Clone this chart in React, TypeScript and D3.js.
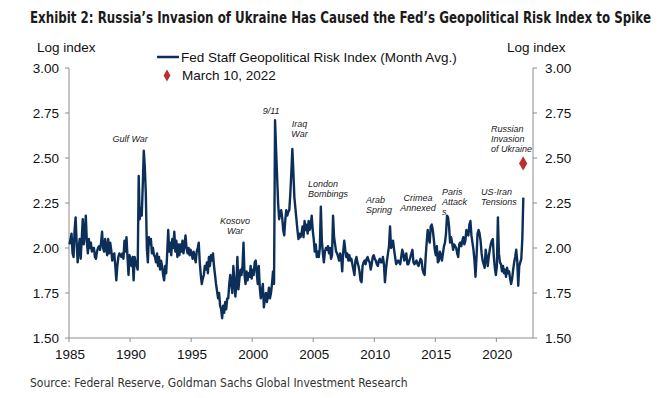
import React, { useLayoutEffect, useRef, useState } from "react";
import * as d3 from "d3";

const START_YEAR = 1985;

// Fed Staff Geopolitical Risk Index (log, month avg.), Jan 1985 onward
const gpr1985s = [
  2.02, 2.05, 2.08, 1.97, 1.95, 2.10, 2.17, 2.03, 1.92, 2.00, 2.05, 1.94,
  2.05, 2.16, 2.02, 2.08, 2.18, 2.04, 1.97, 2.05, 2.00, 2.03, 1.98, 2.00,
  2.00, 1.95, 1.94, 1.98, 2.00, 2.01, 1.99, 2.03, 2.09, 2.00, 1.98, 2.05,
  2.00, 1.96, 2.05, 1.97, 2.03, 1.99, 1.93, 1.96, 1.97, 1.90, 1.82, 1.90,
  1.95, 1.97, 1.96, 1.95, 1.97, 1.94, 2.04, 1.98, 2.06, 1.95, 1.85, 1.96,
];
const gpr1990s = [
  1.93, 1.90, 1.95, 1.82, 1.95, 1.92, 1.90, 1.88, 2.40, 2.16, 2.22, 2.18,
  2.35, 2.54, 2.45, 2.30, 2.00, 1.92, 2.06, 2.02, 2.05, 1.97, 2.00, 1.96,
  1.95, 1.92, 1.97, 1.90, 1.95, 1.88, 1.93, 1.90, 1.85, 1.82, 1.90, 1.86,
  1.97, 2.10, 1.98, 2.03, 1.96, 2.05, 2.00, 2.09, 1.98, 2.04, 1.95, 2.02,
  1.96, 2.02, 1.98, 2.04, 1.97, 2.02, 2.07, 2.00, 1.97, 2.00, 1.96, 1.99,
  1.97, 1.94, 1.98, 1.95, 1.92, 1.98, 2.00, 2.03, 1.92, 1.85, 1.80, 1.83,
  1.85, 1.90, 1.88, 1.92, 1.86, 1.95, 1.90, 1.96, 1.93, 1.97, 1.90, 1.85,
  1.80, 1.76, 1.72, 1.75, 1.68, 1.66, 1.61, 1.68, 1.64, 1.70, 1.66, 1.72,
  1.72, 1.80, 1.85, 1.80, 1.75, 1.90, 1.82, 1.73, 1.80, 1.95, 1.77, 1.83,
  1.88, 1.85, 1.90, 2.03, 1.85, 1.80, 1.87, 1.82, 1.86, 1.84, 1.90, 1.83,
];
const gpr2000s = [
  1.88, 1.85, 1.92, 1.93, 1.86, 1.80, 1.90, 1.78, 1.72, 1.76, 1.80, 1.67,
  1.72, 1.75, 1.70, 1.73, 1.78, 1.72, 1.75, 1.80, 1.87, 1.80, 2.71, 2.55,
  2.40, 2.25, 2.16, 2.19, 2.21, 2.17, 2.10, 2.07, 2.15, 2.21, 2.18, 2.20,
  2.21, 2.30, 2.42, 2.55, 2.42, 2.28, 2.22, 2.16, 2.10, 2.05, 2.08, 2.06,
  2.08, 2.12, 2.06, 2.15, 2.10, 2.13, 2.08, 2.15, 2.10, 2.12, 2.18, 2.10,
  2.05, 1.98, 2.02, 1.95, 1.98, 1.95, 2.00, 2.23, 2.04, 1.97, 1.92, 1.98,
  2.00, 1.99, 2.01, 1.97, 2.00, 1.94, 1.96, 2.18, 2.06, 2.02, 1.98, 1.97,
  1.95, 1.93, 1.97, 1.95, 1.87, 1.98, 2.04, 1.99, 1.95, 1.97, 1.93, 1.96,
  1.93, 1.94, 1.91, 1.88, 1.85, 1.93, 1.95, 1.92, 1.90, 1.87, 1.82, 1.81,
  1.90, 1.92, 1.93, 1.91, 1.94, 1.95, 1.93, 1.92, 1.88, 1.91, 1.95, 1.96,
];
const gpr2010s = [
  1.94, 1.93, 1.91, 1.90, 1.93, 1.94, 1.92, 1.92, 1.95, 1.91, 1.81, 1.88,
  1.93, 1.97, 2.01, 2.12, 2.00, 2.01, 2.04, 1.99, 1.95, 1.91, 1.92, 1.93,
  1.92, 1.91, 1.95, 1.99, 1.97, 1.93, 1.95, 1.97, 1.91, 1.91, 1.93, 1.95,
  1.97, 1.99, 1.92, 1.91, 1.92, 1.93, 1.91, 1.90, 1.92, 1.94, 1.93, 1.88,
  1.86, 1.85, 1.95, 2.03, 2.10, 2.05, 2.03, 2.12, 2.13, 2.10, 2.05, 1.99,
  1.96, 2.01, 1.92, 1.93, 1.98, 1.96, 1.93, 1.97, 2.01, 2.03, 2.08, 2.18,
  2.17, 2.12, 2.03, 2.06, 2.03, 1.99, 2.02, 2.01, 2.00, 1.97, 1.95, 2.02,
  2.03, 2.01, 2.04, 2.06, 2.02, 2.04, 2.10, 2.08, 2.07, 2.13, 2.15, 2.07,
  2.03, 1.99, 1.93, 1.84, 1.95, 2.08, 2.10, 2.08, 2.04, 1.97, 1.93, 1.91,
  1.89, 1.99, 1.95, 1.90, 1.95, 1.99, 2.02, 2.04, 2.05, 1.95, 1.89, 1.85,
];
const gpr2020s = [
  1.90, 2.17, 1.97, 1.92, 1.91, 1.87, 1.90, 1.86, 1.88, 1.84, 1.89, 1.86,
  1.87, 1.83, 1.80, 1.83, 1.88, 1.92, 1.95, 1.99, 1.93, 1.79, 1.90, 1.92,
  1.94, 2.05, 2.28,
];

// March 10, 2022 daily reading
const marchPoint = { year: 2022 + (2 + 10 / 31) / 12, value: 2.47 };

const yTicks = [1.5, 1.75, 2.0, 2.25, 2.5, 2.75, 3.0];
const xTicks = [1985, 1990, 1995, 2000, 2005, 2010, 2015, 2020];

const annotations = [
  { lines: ["Gulf War"], year: 1990.0, value: 2.589, anchor: "middle" },
  { lines: ["Kosovo", "War"], year: 1998.6, value: 2.133, anchor: "middle" },
  { lines: ["9/11"], year: 2001.55, value: 2.744, anchor: "middle" },
  { lines: ["Iraq", "War"], year: 2003.88, value: 2.672, anchor: "middle" },
  { lines: ["London", "Bombings"], year: 2004.57, value: 2.339, anchor: "start" },
  { lines: ["Arab", "Spring"], year: 2009.32, value: 2.25, anchor: "start" },
  { lines: ["Crimea", "Annexed"], year: 2013.58, value: 2.261, anchor: "middle" },
  { lines: ["Paris", "Attack", "s"], year: 2015.55, value: 2.292, anchor: "start" },
  { lines: ["US-Iran", "Tensions"], year: 2018.74, value: 2.292, anchor: "start" },
  { lines: ["Russian", "Invasion", "of Ukraine"], year: 2019.56, value: 2.646, anchor: "start" },
];

const TITLE =
  "Exhibit 2: Russia’s Invasion of Ukraine Has Caused the Fed’s Geopolitical Risk Index to Spike";

const W = 666;
const H = 398;
const M = { left: 69, right: 133, top: 68, bottom: 60 };

const LINE_COLOR = "#0c2f5a";
const DIAMOND_COLOR = "#b83232";
const AXIS_COLOR = "#8c8c8c";
const FONT = "'Liberation Sans', Arial, sans-serif";
const NARROW = "'Liberation Sans Narrow', 'Arial Narrow', 'DejaVu Sans Condensed', sans-serif";

export default function App() {
  const series = [...gpr1985s, ...gpr1990s, ...gpr2000s, ...gpr2010s, ...gpr2020s];
  const data = series.map((v, i) => ({ year: START_YEAR + (i + 0.5) / 12, value: v }));

  const titleRef = useRef<SVGTextElement>(null);
  const sourceRef = useRef<SVGTextElement>(null);
  const [titleScale, setTitleScale] = useState(1);
  const [sourceScale, setSourceScale] = useState(1);

  useLayoutEffect(() => {
    if (titleRef.current) {
      const w = titleRef.current.getComputedTextLength();
      if (w > 0) setTitleScale(622 / w);
    }
    if (sourceRef.current) {
      const w = sourceRef.current.getComputedTextLength();
      if (w > 0) setSourceScale(378 / w);
    }
  }, []);

  const x = d3.scaleLinear().domain([1985, 2023]).range([M.left, W - M.right]);
  const y = d3.scaleLinear().domain([1.5, 3.0]).range([H - M.bottom, M.top]);

  const line = d3
    .line<{ year: number; value: number }>()
    .x((d) => x(d.year))
    .y((d) => y(d.value));

  const diamond = d3.symbol().type(d3.symbolDiamond);
  const x0 = x.range()[0];
  const x1 = x.range()[1];
  const yb = y.range()[0];
  const yt = y.range()[1];

  return (
    <svg
      width={W}
      height={H}
      style={{ position: "absolute", left: 0, top: 0, background: "#fff" }}
      fontFamily={FONT}
    >
      <rect width={W} height={H} fill="#fff" />
      {/* Title */}
      <text
        ref={titleRef}
        transform={`translate(30,23) scale(${titleScale},1)`}
        fontFamily={NARROW}
        fontWeight="bold"
        fontSize={15.5}
        fill="#1b1b1b"
      >
        {TITLE}
      </text>

      {/* axis titles */}
      <text x={37} y={52} fontSize={13.5} fill="#111">Log index</text>
      <text x={507} y={52} fontSize={13.5} fill="#111">Log index</text>

      {/* Legend */}
      <line x1={157} x2={179} y1={57} y2={57} stroke={LINE_COLOR} strokeWidth={2.5} />
      <text x={181} y={61.5} fontSize={13.5} fill="#111">
        Fed Staff Geopolitical Risk Index (Month Avg.)
      </text>
      <path
        d={diamond.size(40)() as string}
        transform={`translate(${167},${75.5})`}
        fill={DIAMOND_COLOR}
      />
      <text x={182} y={80} fontSize={13.5} fill="#111">March 10, 2022</text>

      {/* Axes */}
      <line x1={x0} x2={x0} y1={yt} y2={yb} stroke={AXIS_COLOR} strokeWidth={1} />
      <line x1={x1} x2={x1} y1={yt} y2={yb} stroke={AXIS_COLOR} strokeWidth={1} />
      <line x1={x0} x2={x1} y1={yb} y2={yb} stroke={AXIS_COLOR} strokeWidth={1} />

      {yTicks.map((t) => (
        <g key={"yl" + t}>
          <line x1={x0 - 4} x2={x0} y1={y(t)} y2={y(t)} stroke={AXIS_COLOR} />
          <text x={59} y={y(t) + 5} fontSize={13.5} textAnchor="end" fill="#111">
            {t.toFixed(2)}
          </text>
          <line x1={x1} x2={x1 + 4} y1={y(t)} y2={y(t)} stroke={AXIS_COLOR} />
          <text x={545} y={y(t) + 5} fontSize={13.5} textAnchor="start" fill="#111">
            {t.toFixed(2)}
          </text>
        </g>
      ))}

      {xTicks.map((t) => (
        <g key={"x" + t}>
          <line x1={x(t)} x2={x(t)} y1={yb} y2={yb + 4} stroke={AXIS_COLOR} />
          <text x={x(t) + 1} y={359} fontSize={13.5} textAnchor="middle" fill="#111">
            {t}
          </text>
        </g>
      ))}

      {/* Series */}
      <path
        d={line(data) as string}
        fill="none"
        stroke={LINE_COLOR}
        strokeWidth={2.4}
        strokeLinejoin="round"
      />

      <path
        d={diamond.size(60)() as string}
        transform={`translate(${x(marchPoint.year)},${y(marchPoint.value)})`}
        fill={DIAMOND_COLOR}
      />

      {/* Annotations */}
      {annotations.map((a) => (
        <text
          key={a.lines.join(" ")}
          x={x(a.year)}
          y={y(a.value)}
          fontSize={9}
          fontStyle="italic"
          textAnchor={a.anchor}
          fill="#222"
        >
          {a.lines.map((l, i) => (
            <tspan key={i} x={x(a.year)} dy={i === 0 ? 0 : 10}>
              {l}
            </tspan>
          ))}
        </text>
      ))}

      {/* Source */}
      <text
        ref={sourceRef}
        transform={`translate(30,387) scale(${sourceScale},1)`}
        fontSize={13}
        fill="#333"
        fontFamily={NARROW}
      >
        Source: Federal Reserve, Goldman Sachs Global Investment Research
      </text>
    </svg>
  );
}
